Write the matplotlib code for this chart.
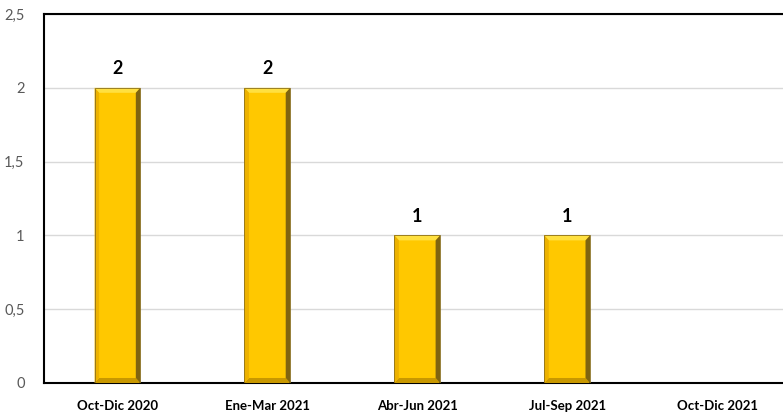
import matplotlib
matplotlib.use('Agg')
import matplotlib.pyplot as plt
from matplotlib.patches import Polygon

# ----Data
categories = ['Oct-Dic 2020', 'Ene-Mar 2021', 'Abr-Jun 2021',
              'Jul-Sep 2021', 'Oct-Dic 2021']
values = [2, 2, 1, 1, 0]
y_ticks = [0, 0.5, 1, 1.5, 2, 2.5]

plt.rcParams['font.family'] = ['Lato', 'DejaVu Sans']

fig = plt.figure(figsize=(7.83, 4.13), dpi=100)
W, H = 783, 413
# plot area: left spine at x=44, top y=14, bottom y=383 (pixels)
ax = fig.add_axes([44 / W, (H - 383) / H, (W - 44) / W, 369 / H])

x = list(range(len(categories)))
bar_w = 0.305
bars = ax.bar(x, values, width=bar_w, color='#FFC800', zorder=2,
              linewidth=0)

# bevel edges, offsets in data units (~4-5 px)
bx = 4.5 / 150
by = 5 / 147.5
for rect, v in zip(bars, values):
    if v == 0:
        continue
    x0 = rect.get_x()
    x1 = x0 + rect.get_width()
    y0 = 0
    y1 = rect.get_height()
    top = [(x0, y1), (x1, y1), (x1 - bx, y1 - by), (x0 + bx, y1 - by)]
    bottom = [(x0, y0), (x1, y0), (x1 - bx, y0 + by), (x0 + bx, y0 + by)]
    left = [(x0, y0), (x0, y1), (x0 + bx, y1 - by), (x0 + bx, y0 + by)]
    right = [(x1, y0), (x1, y1), (x1 - bx, y1 - by), (x1 - bx, y0 + by)]
    ax.add_patch(Polygon(top, closed=True, color='#FFE040', lw=0, zorder=3))
    ax.add_patch(Polygon(bottom, closed=True, color='#C89800', lw=0,
                         zorder=3))
    ax.add_patch(Polygon(left, closed=True, color='#EDB200', lw=0, zorder=3))
    ax.add_patch(Polygon(right, closed=True, color='#7F6410', lw=0,
                         zorder=3))
    # thin dark outline
    ax.add_patch(Polygon([(x0, y0), (x0, y1), (x1, y1), (x1, y0)],
                         closed=True, fill=False, edgecolor='#8A7020',
                         lw=0.6, zorder=4))
    ax.text(rect.get_x() + rect.get_width() / 2, y1 + 0.07, f'{v}',
            ha='center', va='bottom', fontsize=13, fontweight='bold',
            color='black')

ax.set_xlim(-0.49, 4.5 - 9 / 150)
ax.set_ylim(0, 2.5)
ax.set_yticks(y_ticks)
ax.set_yticklabels([f'{t:g}'.replace('.', ',') for t in y_ticks],
                   color='#595959', fontsize=10.5)
ax.set_xticks(x)
ax.set_xticklabels(categories, fontsize=9.5, fontweight='bold',
                   color='black')
ax.tick_params(axis='both', length=0)
ax.tick_params(axis='x', pad=12)
ax.tick_params(axis='y', pad=14)
ax.grid(axis='y', color='#D9D9D9', linewidth=1, zorder=0)
ax.set_axisbelow(True)

for side in ['left', 'top', 'bottom']:
    ax.spines[side].set_color('black')
    ax.spines[side].set_linewidth(1.5)
ax.spines['right'].set_visible(False)

fig.savefig('out.png', dpi=100)
